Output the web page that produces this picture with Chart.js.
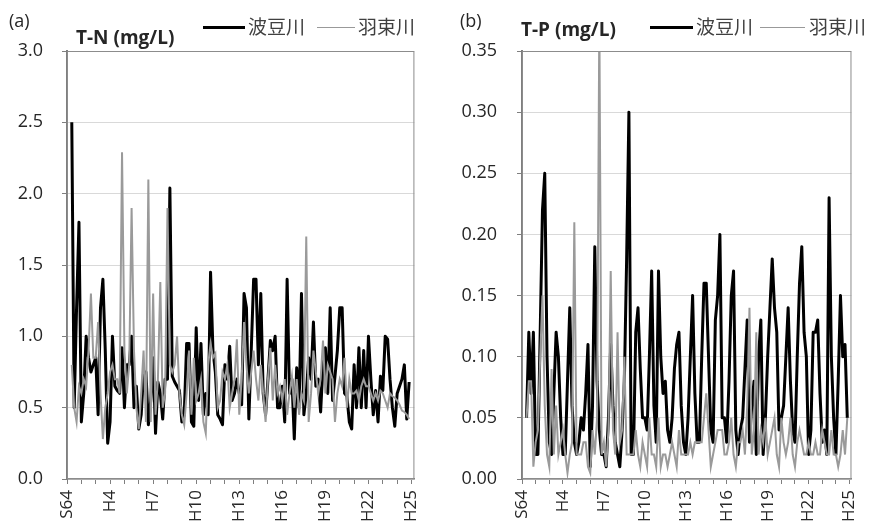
<!DOCTYPE html>
<html>
<head>
<meta charset="utf-8">
<script src="https://cdn.jsdelivr.net/npm/chart.js@4"></script>
<style>
  body { margin: 0; background: #fff; }
  #wrap { position: relative; width: 876px; height: 528px; overflow: hidden; }
  canvas { position: absolute; top: 0; }
  .lbl { position: absolute; white-space: nowrap; line-height: 18px; }
  .tag { font: 18px "Open Sans", sans-serif; color: #262626; }
  .ttl { font: bold 19px "Open Sans", sans-serif; color: #262626; }
  .leg { font: 19px "Noto Sans CJK JP", sans-serif; color: #404040; line-height: 20px; }
  .swatch { position: absolute; }
</style>
</head>
<body>
<div id="wrap">
  <canvas id="chartN" width="438" height="528" style="left:0"></canvas>
  <canvas id="chartP" width="438" height="528" style="left:438px"></canvas>

  <div class="lbl tag" style="left:9px;top:8px">(a)</div>
  <div class="lbl ttl" style="left:76px;top:24px">T-N (mg/L)</div>
  <div class="swatch" style="left:203px;top:26px;width:42px;height:3px;background:#000"></div>
  <div class="lbl leg" style="left:248px;top:16px">波豆川</div>
  <div class="swatch" style="left:317px;top:27px;width:38px;height:1px;background:#999"></div>
  <div class="lbl leg" style="left:358px;top:16px">羽束川</div>

  <div class="lbl tag" style="left:460px;top:8px">(b)</div>
  <div class="lbl ttl" style="left:521px;top:16px">T-P (mg/L)</div>
  <div class="swatch" style="left:650px;top:26px;width:43px;height:3px;background:#000"></div>
  <div class="lbl leg" style="left:696px;top:16px">波豆川</div>
  <div class="swatch" style="left:760px;top:27px;width:45px;height:1px;background:#999"></div>
  <div class="lbl leg" style="left:809px;top:16px">羽束川</div>
</div>
<script>
// sampling: every two months, starting 1/3 year after S64 (years counted from S64)
const sampleStart = 1 / 3;
const sampleStep = 1 / 6;
const yearTicks = [0,1,2,3,4,5,6,7,8,9,10,11,12,13,14,15,16,17,18,19,20,21,22,23,24];
const tickLabels = ['S64','H4','H7','H10','H13','H16','H19','H22','H25'];

// T-N (mg/L)
const hazuTN = [
  2.5, 0.5, 1.2, 1.8,
  0.4, 0.6, 1.0, 0.85, 0.75, 0.8,
  0.85, 0.45, 1.2, 1.4, 0.9, 0.25,
  0.4, 1.0, 0.65, 0.62, 0.6, 0.92,
  0.5, 0.8, 0.8, 1.0, 0.5, 0.65,
  0.35, 0.45, 0.75, 0.75, 0.38, 0.55,
  0.85, 0.32, 0.68, 0.6, 0.42, 0.7,
  0.7, 2.04, 0.72, 0.68, 0.65, 0.62,
  0.4, 0.45, 0.95, 0.95, 0.4, 0.37,
  1.06, 0.55, 0.95, 0.45, 0.6, 0.45,
  1.45, 0.9, 0.75, 0.45, 0.42, 0.38,
  0.8, 0.7, 0.93, 0.55, 0.6, 0.7,
  0.6, 0.52, 1.3, 1.2, 0.42, 0.9,
  1.4, 1.4, 0.8, 1.3, 0.6, 0.45,
  0.7, 0.97, 0.9, 1.0, 0.5, 0.5,
  0.65, 0.4, 1.4, 0.6, 0.7, 0.28,
  0.78, 0.5, 1.3, 0.45, 0.6, 0.85,
  0.7, 1.1, 0.65, 0.7, 0.47, 0.8,
  0.92, 0.6, 1.2, 0.55, 0.72, 0.9,
  1.2, 1.2, 0.6, 0.58, 0.4, 0.35,
  0.8, 0.5, 0.92, 0.5, 0.9, 0.5,
  1.0, 0.7, 0.45, 0.62, 0.4, 0.72,
  0.62, 1.0, 0.98, 0.7, 0.5, 0.37,
  0.6, 0.65, 0.7, 0.8, 0.42, 0.68
];
const hatsukaTN = [
  0.8, 0.5, 0.4, 0.65,
  0.6, 0.7, 0.65, 0.9, 1.3, 0.85,
  0.85, 1.1, 0.6, 0.28, 0.5, 0.6,
  0.75, 0.8, 0.7, 0.7, 0.6, 2.29,
  0.9, 0.6, 0.8, 1.9, 0.9, 0.5,
  0.35, 0.6, 0.9, 0.4, 2.1, 0.4,
  1.3, 0.45, 0.7, 1.38, 0.5, 0.6,
  1.9, 0.8, 0.75, 0.8, 1.0, 0.6,
  0.45, 0.38, 0.6, 0.9, 0.45, 0.85,
  0.55, 0.6, 0.7, 0.4, 0.32, 0.8,
  0.95, 0.85, 0.88, 0.5, 0.55, 0.75,
  0.7, 0.8, 0.5, 0.6, 0.7, 0.98,
  0.45, 0.7, 1.1, 0.8, 0.6, 0.75,
  0.9, 0.7, 0.55, 0.8, 0.6, 0.4,
  0.7, 0.92, 0.55, 0.8, 0.6, 0.65,
  0.55, 0.7, 0.45, 0.6, 0.72, 0.5,
  0.7, 0.45, 0.6, 0.55, 1.7, 0.4,
  0.6, 0.9, 0.75, 0.6, 0.7, 0.97,
  0.6, 0.8, 0.75, 0.7, 0.4, 0.6,
  0.7, 0.65, 0.85, 0.5, 0.7, 0.6,
  0.6, 0.62, 0.55, 0.65, 0.7, 0.65,
  0.65, 0.6, 0.55, 0.6, 0.55, 0.62,
  0.6, 0.55, 0.5, 0.6, 0.58, 0.57,
  0.55, 0.52, 0.48, 0.47, 0.45, 0.42
];

// T-P (mg/L)
const hazuTP = [
  0.05, 0.12, 0.07, 0.12,
  0.02, 0.02, 0.12, 0.22, 0.25, 0.1,
  0.03, 0.02, 0.07, 0.12, 0.1, 0.05,
  0.02, 0.02, 0.08, 0.14, 0.06, 0.03,
  0.02, 0.03, 0.05, 0.04, 0.07, 0.11,
  0.01, 0.06, 0.19, 0.08, 0.04, 0.02,
  0.02, 0.01, 0.05, 0.11, 0.06, 0.03,
  0.02, 0.01, 0.04, 0.08, 0.18, 0.3,
  0.02, 0.02, 0.12, 0.14, 0.09, 0.05,
  0.05, 0.04, 0.1, 0.17, 0.06, 0.03,
  0.17, 0.1, 0.07, 0.08, 0.04, 0.03,
  0.05, 0.09, 0.11, 0.12, 0.06, 0.03,
  0.02, 0.05, 0.1, 0.15, 0.07, 0.03,
  0.03, 0.1, 0.16, 0.16, 0.1, 0.04,
  0.03, 0.13, 0.15, 0.2, 0.05, 0.05,
  0.03, 0.08, 0.15, 0.17, 0.04, 0.02,
  0.04, 0.05, 0.09, 0.13, 0.03, 0.06,
  0.08, 0.02, 0.1, 0.13, 0.02, 0.05,
  0.1, 0.14, 0.18, 0.14, 0.12, 0.04,
  0.05, 0.06, 0.1, 0.14, 0.08, 0.04,
  0.03, 0.1, 0.16, 0.19, 0.12, 0.1,
  0.02, 0.04, 0.12, 0.12, 0.13, 0.07,
  0.03, 0.04, 0.02, 0.23, 0.1, 0.05,
  0.02, 0.08, 0.15, 0.1, 0.11, 0.05
];
const hatsukaTP = [
  0.05, 0.08, 0.08, 0.01,
  0.03, 0.04, 0.1, 0.15, 0.06, 0.02,
  0.01, 0.09, 0.02, 0.06, 0.02, 0.03,
  0.04, 0.02, 0.005, 0.02, 0.03, 0.21,
  0.02, 0.02, 0.02, 0.03, 0.03, 0.01,
  0.005, 0.04, 0.02, 0.05, 0.38, 0.02,
  0.03, 0.01, 0.04, 0.17, 0.04, 0.02,
  0.12, 0.03, 0.04, 0.1, 0.02, 0.02,
  0.02, 0.02, 0.04, 0.02, 0.01, 0.03,
  0.02, 0.01, 0.05, 0.02, 0.02, 0.01,
  0.05, 0.01, 0.02, 0.02, 0.01, 0.02,
  0.03, 0.02, 0.01, 0.04, 0.02, 0.02,
  0.02, 0.02, 0.03, 0.02, 0.03, 0.03,
  0.03, 0.03, 0.05, 0.07, 0.04, 0.01,
  0.02, 0.03, 0.04, 0.04, 0.04, 0.02,
  0.02, 0.03, 0.05, 0.02, 0.01, 0.03,
  0.03, 0.04, 0.02, 0.06, 0.14, 0.02,
  0.04, 0.12, 0.02, 0.04, 0.03, 0.05,
  0.02, 0.03, 0.04, 0.05, 0.02, 0.01,
  0.05, 0.03, 0.02, 0.03, 0.05, 0.02,
  0.01, 0.03, 0.04, 0.03, 0.02, 0.02,
  0.03, 0.02, 0.02, 0.03, 0.02, 0.02,
  0.04, 0.03, 0.02, 0.02, 0.04, 0.02,
  0.02, 0.01, 0.02, 0.04, 0.02, 0.05
];

const toPoints = arr => arr.map((v, i) => ({ x: sampleStart + i * sampleStep, y: v }));

Chart.defaults.font.family = '"Open Sans", sans-serif';
Chart.defaults.color = '#404040';

// box around the plot area
const frame = {
  id: 'frame',
  afterDraw(chart) {
    const a = chart.chartArea, c = chart.ctx;
    c.save();
    c.strokeStyle = '#8c8c8c';
    c.lineWidth = 1;
    c.strokeRect(a.left + 0.5, a.top + 0.5, a.right - a.left - 1, a.bottom - a.top - 1);
    c.restore();
  }
};

function makeChart(id, black, gray, opts) {
  return new Chart(document.getElementById(id), {
    type: 'line',
    data: {
      datasets: [
        { label: '羽束川', data: toPoints(gray), borderColor: '#9a9a9a', borderWidth: 2, pointRadius: 0, tension: 0 },
        { label: '波豆川', data: toPoints(black), borderColor: '#000', borderWidth: 3, pointRadius: 0, tension: 0, borderJoinStyle: 'round' }
      ]
    },
    options: {
      responsive: false,
      animation: false,
      devicePixelRatio: 1,
      layout: { padding: { left: 0, right: opts.padRight, top: 51, bottom: 0 } },
      plugins: { legend: { display: false }, tooltip: { enabled: false } },
      scales: {
        x: {
          type: 'linear',
          min: 0,
          max: opts.xMax,
          afterFit: s => { s.height = 49; },
          afterBuildTicks: s => { s.ticks = yearTicks.map(v => ({ value: v })); },
          ticks: {
            autoSkip: false,
            minRotation: 90,
            maxRotation: 90,
            padding: 6,
            font: { size: 17 },
            color: '#262626',
            callback: v => (v % 3 === 0 ? tickLabels[v / 3] : '')
          },
          grid: { drawOnChartArea: false, tickLength: 5, color: '#7f7f7f', tickColor: '#7f7f7f' },
          border: { color: '#7f7f7f', width: 1.5 }
        },
        y: {
          min: 0,
          max: opts.yMax,
          afterFit: s => { s.width = opts.yWidth; },
          ticks: {
            stepSize: opts.yStep,
            padding: opts.yPad,
            font: { size: 18 },
            color: '#262626',
            callback: v => v.toFixed(opts.digits)
          },
          grid: { color: '#d9d9d9', tickLength: 5, tickColor: '#7f7f7f' },
          border: { color: '#7f7f7f', width: 2 }
        }
      }
    },
    plugins: [frame]
  });
}

makeChart('chartN', hazuTN, hatsukaTN, { xMax: 24.2, yMax: 3, yStep: 0.5, digits: 1, yWidth: 67, yPad: 19, padRight: 8 });
makeChart('chartP', hazuTP, hatsukaTP, { xMax: 24.14, yMax: 0.35, yStep: 0.05, digits: 2, yWidth: 84, yPad: 20, padRight: 6 });
</script>
</body>
</html>
